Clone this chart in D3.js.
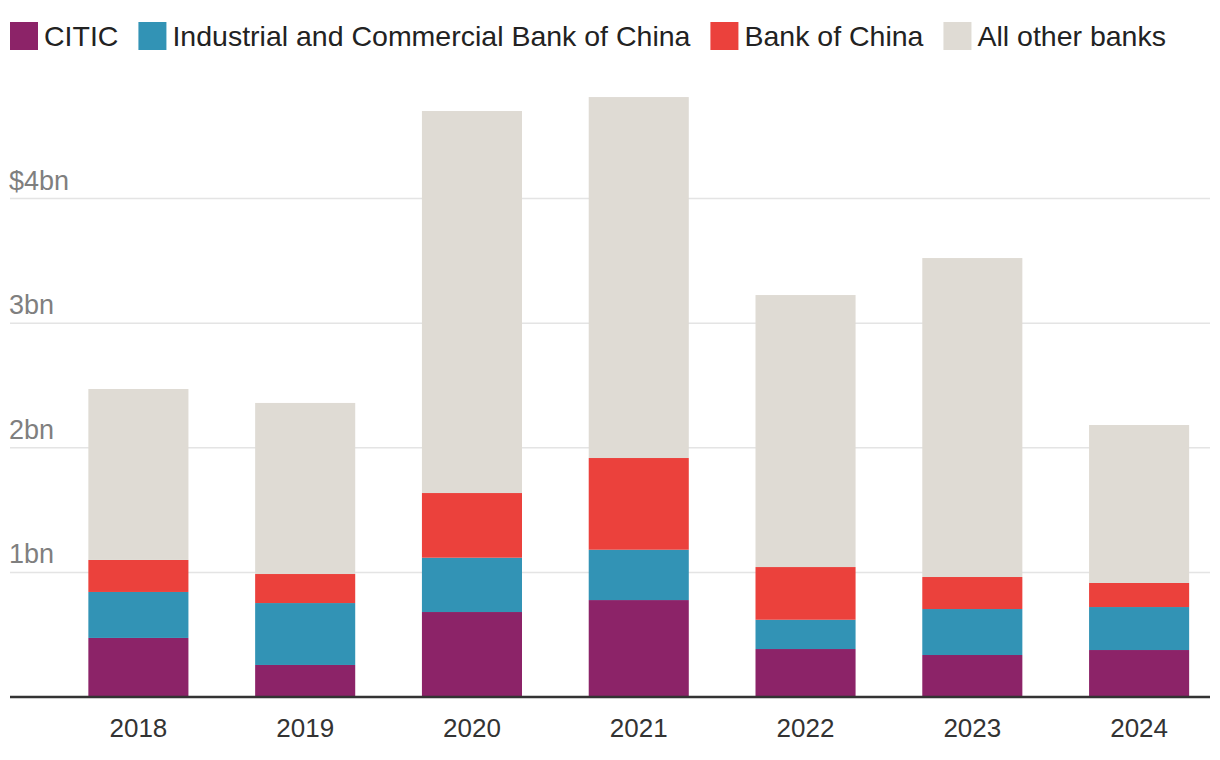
<!DOCTYPE html>
<html>
<head>
<meta charset="utf-8">
<script src="https://cdn.jsdelivr.net/npm/d3@7"></script>
<style>
  body { margin: 0; background: #fff; }
  svg text { font-family: "Liberation Sans", Arial, sans-serif; }
</style>
</head>
<body>
<div id="chart"></div>
<script>
// data, in $bn
var years = ["2018", "2019", "2020", "2021", "2022", "2023", "2024"];
var citic = [0.474, 0.257, 0.682, 0.778, 0.385, 0.337, 0.377];
var icbc = [0.369, 0.497, 0.436, 0.404, 0.235, 0.369, 0.345];
var boc = [0.257, 0.233, 0.519, 0.736, 0.423, 0.257, 0.193];
var others = [1.372, 1.373, 3.066, 2.897, 2.183, 2.560, 1.268];
var seriesNames = ["CITIC", "Industrial and Commercial Bank of China", "Bank of China", "All other banks"];
var yTicks = [1, 2, 3, 4];
var yTickLabels = ["1bn", "2bn", "3bn", "$4bn"];

var colors = ["#8c2368", "#3293b5", "#eb413c", "#dfdbd4"];
var keys = ["citic", "icbc", "boc", "others"];

var width = 1220, height = 760;
var baseline = 697;

var rows = years.map(function(y, i) {
  return { year: y, citic: citic[i], icbc: icbc[i], boc: boc[i], others: others[i] };
});

var svg = d3.select("#chart").append("svg")
  .attr("width", width)
  .attr("height", height);

var x = d3.scaleBand()
  .domain(years)
  .range([55, 1222.5])
  .paddingInner(0.4)
  .paddingOuter(0.2);

var y = d3.scaleLinear()
  .domain([0, 4])
  .range([baseline, 198.6]);

// gridlines + labels
var grid = svg.append("g");
grid.selectAll("line")
  .data(yTicks)
  .enter().append("line")
  .attr("x1", 10).attr("x2", 1210)
  .attr("y1", function(d) { return y(d); })
  .attr("y2", function(d) { return y(d); })
  .attr("stroke", "#e4e4e4")
  .attr("stroke-width", 1.5);

grid.selectAll("text")
  .data(yTicks)
  .enter().append("text")
  .attr("x", 9)
  .attr("y", function(d) { return y(d) - 9; })
  .attr("fill", "#7f7f7f")
  .style("font-size", "27px")
  .text(function(d, i) { return yTickLabels[i]; });

// stacked bars
var stack = d3.stack().keys(keys);
var layers = stack(rows);

svg.append("g").selectAll("g")
  .data(layers)
  .enter().append("g")
  .attr("fill", function(d, i) { return colors[i]; })
  .selectAll("rect")
  .data(function(d) { return d; })
  .enter().append("rect")
  .attr("x", function(d) { return x(d.data.year); })
  .attr("width", x.bandwidth())
  .attr("y", function(d) { return y(d[1]); })
  .attr("height", function(d) { return y(d[0]) - y(d[1]); });

// x axis
svg.append("line")
  .attr("x1", 10).attr("x2", 1210)
  .attr("y1", baseline).attr("y2", baseline)
  .attr("stroke", "#333")
  .attr("stroke-width", 2.5);

var xAxis = svg.append("g")
  .attr("transform", "translate(0," + baseline + ")")
  .call(d3.axisBottom(x).tickSize(0).tickPadding(0));
xAxis.select(".domain").remove();
xAxis.selectAll("text")
  .attr("dy", 0)
  .attr("y", 40)
  .attr("fill", "#333")
  .style("font-size", "26px")
  .style("font-family", "'Liberation Sans', Arial, sans-serif");

// legend
var legend = svg.append("g");
var lx = 10;
seriesNames.forEach(function(name, i) {
  legend.append("rect")
    .attr("x", lx).attr("y", 22)
    .attr("width", 28).attr("height", 28)
    .attr("fill", colors[i]);
  var t = legend.append("text")
    .attr("x", lx + 34)
    .attr("y", 46)
    .attr("fill", "#222")
    .style("font-size", "28.5px")
    .text(name);
  lx += 34 + t.node().getComputedTextLength() + 20;
});
</script>
</body>
</html>
